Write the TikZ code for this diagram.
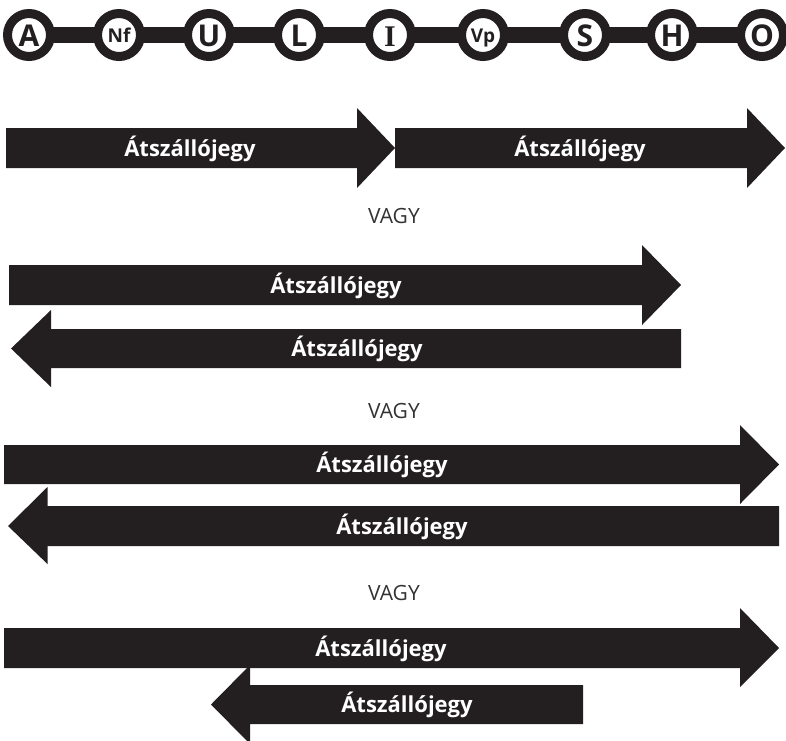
\documentclass[tikz,border=0pt]{standalone}
\usepackage{fontspec}
\setmainfont{Open Sans}
\newfontfamily\slabfont{Liberation Serif}
\definecolor{ink}{HTML}{231F20}
\definecolor{vagy}{HTML}{333333}
\tikzset{
  stn/.style={circle, draw=ink, line width=9pt, fill=white, minimum size=43pt, inner sep=0pt},
  stxt/.style={anchor=base, text=ink, font=\bfseries\fontsize{30}{33}\selectfont},
  stxts/.style={anchor=base, text=ink, font=\bfseries\fontsize{19}{22}\selectfont},
  atxt/.style={anchor=base, text=white, font=\bfseries\fontsize{22}{25}\selectfont, inner sep=0pt},
  vtxt/.style={anchor=base, text=vagy, font=\fontsize{21}{24}\selectfont, inner sep=0pt},
  arr/.style={fill=ink}
}
\begin{document}
\begin{tikzpicture}[x=1pt,y=-1pt]
\useasboundingbox (0,0) rectangle (786,740);
% station line
\foreach \n/\x in {A/29,Nf/119,U/209,L/299,I/390,Vp/483,S/585,H/672,O/762}{
  \coordinate (c\n) at (\x,35);
}
\draw[ink, line width=16pt] (cA) -- (cO);
\foreach \n in {A,Nf,U,L,I,Vp,S,H,O}{
  \node[stn] (s\n) at (c\n) {};
}
\node[stxt] (tA) at (29,46) {A};
\node[stxts] (tNf) at (119,42) {Nf};
\node[stxt] (tU) at (209,46) {U};
\node[stxt] (tL) at (299,46) {L};
\node[stxt, font=\slabfont\bfseries\fontsize{30}{33}\selectfont] (tI) at (390,46) {I};
\node[stxts] (tVp) at (483,42) {Vp};
\node[stxt] (tS) at (585,46) {S};
\node[stxt] (tH) at (672,46) {H};
\node[stxt] (tO) at (762,46) {O};

% row 1
\fill[arr] (6,128) -- (357,128) -- (357,108) -- (395,148) -- (357,188) -- (357,168) -- (6,168) -- cycle;
\fill[arr] (395,128) -- (747,128) -- (747,108) -- (785,148) -- (747,188) -- (747,168) -- (395,168) -- cycle;
\node[atxt] (a1) at (190,156) {Átszállójegy};
\node[atxt] (a2) at (580,156) {Átszállójegy};
\node[vtxt] (v1) at (394,223) {VAGY};

% row 2
\fill[arr] (9,265) -- (642,265) -- (642,245) -- (681,285) -- (642,325) -- (642,305) -- (9,305) -- cycle;
\fill[arr] (681,329) -- (51,329) -- (51,310) -- (11,348.5) -- (51,387) -- (51,368) -- (681,368) -- cycle;
\node[atxt] (a3) at (336,293) {Átszállójegy};
\node[atxt] (a4) at (357,356.5) {Átszállójegy};
\node[vtxt] (v2) at (394,418) {VAGY};

% row 3
\fill[arr] (4,445) -- (740,445) -- (740,425) -- (779,464.5) -- (740,504) -- (740,484) -- (4,484) -- cycle;
\fill[arr] (779,506) -- (47.5,506) -- (47.5,487) -- (8,526) -- (47.5,564) -- (47.5,546) -- (779,546) -- cycle;
\node[atxt] (a5) at (382,472.5) {Átszállójegy};
\node[atxt] (a6) at (402,534) {Átszállójegy};
\node[vtxt] (v3) at (394,600) {VAGY};

% row 4
\fill[arr] (4,628) -- (740,628) -- (740,608) -- (779,648) -- (740,687) -- (740,668) -- (4,668) -- cycle;
\fill[arr] (583,685) -- (250,685) -- (250,665) -- (211,704.5) -- (250,744) -- (250,724) -- (583,724) -- cycle;
\node[atxt] (a7) at (381,656) {Átszállójegy};
\node[atxt] (a8) at (407,712.5) {Átszállójegy};
\end{tikzpicture}
\end{document}
